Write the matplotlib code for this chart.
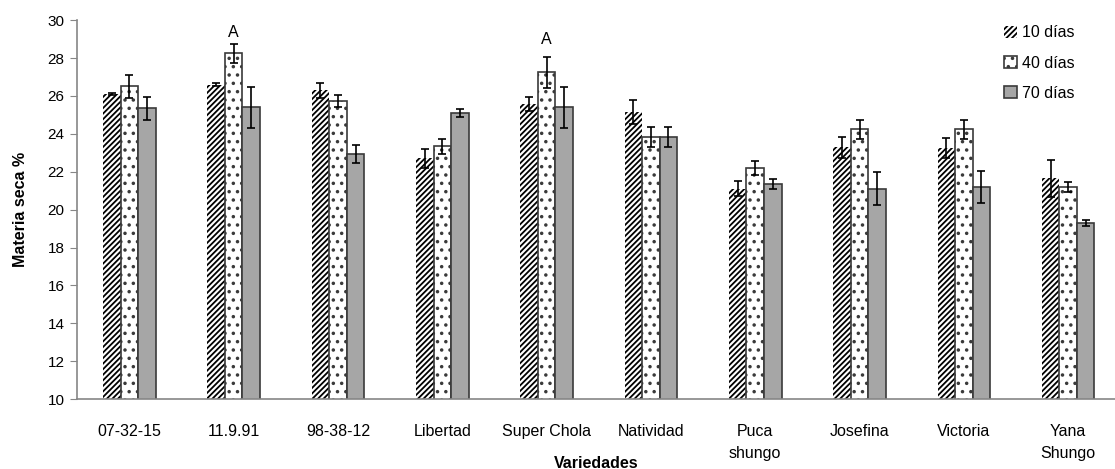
import numpy as np
import matplotlib
matplotlib.use("Agg")
import matplotlib.pyplot as plt

# Values
variedades = ["07-32-15", "11.9.91", "98-38-12", "Libertad", "Super Chola",
              "Natividad", "Puca\nshungo", "Josefina", "Victoria", "Yana\nShungo"]
dias_10 = [26.1, 26.6, 26.3, 22.7, 25.6, 25.15, 21.1, 23.3, 23.25, 21.65]
dias_40 = [26.5, 28.25, 25.75, 23.35, 27.25, 23.85, 22.2, 24.25, 24.25, 21.2]
dias_70 = [25.35, 25.4, 22.95, 25.1, 25.4, 23.85, 21.35, 21.1, 21.2, 19.3]
err_10 = [0.05, 0.1, 0.4, 0.5, 0.37, 0.63, 0.4, 0.55, 0.55, 0.97]
err_40 = [0.6, 0.5, 0.32, 0.4, 0.83, 0.53, 0.38, 0.5, 0.5, 0.25]
err_70 = [0.6, 1.07, 0.47, 0.2, 1.07, 0.53, 0.28, 0.88, 0.85, 0.16]
letras = ["", "A", "", "", "A", "", "", "", "", ""]
letra_y = [0, 29.35, 0, 0, 29.0, 0, 0, 0, 0, 0]

plt.rcParams['font.family'] = ['Liberation Sans', 'DejaVu Sans']
plt.rcParams['hatch.linewidth'] = 1.3

fig = plt.figure(figsize=(11.15, 4.69), dpi=100)
ax = fig.add_axes([0.069, 0.149, 0.931, 0.808])

x = np.arange(len(variedades))
w = 0.168
edge = '#3a3a3a'

ax.bar(x - w, dias_10, w, color='white', edgecolor='black',
       hatch='//////', linewidth=0, label='10 días', zorder=2)
ax.bar(x, dias_40, w, color='white', edgecolor=edge, hatch='..',
       linewidth=1.2, label='40 días', zorder=2)
ax.bar(x + w, dias_70, w, color='#a6a6a6', edgecolor=edge,
       linewidth=1.2, label='70 días', zorder=2)

for off, vals, errs in [(-w, dias_10, err_10), (0, dias_40, err_40), (w, dias_70, err_70)]:
    ax.errorbar(x + off, vals, yerr=errs, fmt='none', ecolor='black',
                elinewidth=1.2, capsize=3.2, capthick=1.2, zorder=3)

for i, t in enumerate(letras):
    if t:
        ax.text(x[i], letra_y[i], t, ha='center', va='center', fontsize=11.5)

ax.set_ylim(10, 30)
ax.set_yticks(np.arange(10, 31, 2))
ax.set_xlim(-0.503, 9.449)
ax.set_xticks(x)
ax.set_xticklabels(variedades, fontsize=11.5, va='top', linespacing=1.6)
ax.tick_params(axis='x', length=0, pad=18)
ax.tick_params(axis='y', length=5, color='#868686', labelsize=11, pad=4)

for s in ['top', 'right']:
    ax.spines[s].set_visible(False)
for s in ['left', 'bottom']:
    ax.spines[s].set_color('#868686')
    ax.spines[s].set_linewidth(1.2)

ax.set_ylabel('Materia seca %', fontsize=11.5, fontweight='bold', labelpad=14)
ax.set_xlabel('Variedades', fontsize=11.5, fontweight='bold', labelpad=-4)

ax.legend(loc='upper right', bbox_to_anchor=(0.975, 1.024), frameon=False,
          handlelength=0.8, handleheight=0.8, handletextpad=0.3,
          labelspacing=0.95, fontsize=11.5)

fig.savefig('out.png', dpi=100)
